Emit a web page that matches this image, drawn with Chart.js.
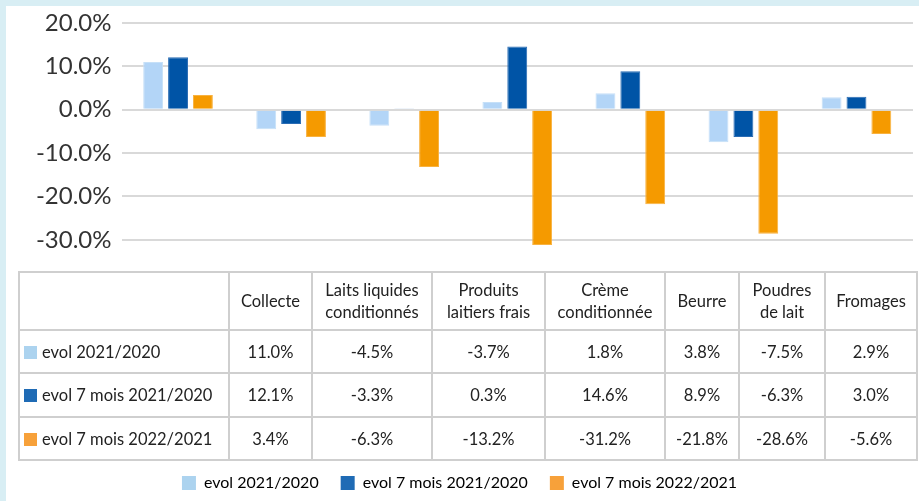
<!DOCTYPE html>
<html>
<head>
<meta charset="utf-8">
<script src="https://cdn.jsdelivr.net/npm/chart.js@4"></script>
<style>
    body { margin: 0; background: #d8eef4; width: 919px; height: 501px; overflow: hidden; }
    #panel { position: absolute; left: 6px; top: 6px; width: 913px; height: 495px; background: #fff; }
    #chart { position: absolute; left: 0; top: 0; }
    #dataTable {
        position: absolute; left: 12px; top: 265px;
        border-collapse: collapse; table-layout: fixed;
        font-family: Lato, "Open Sans", sans-serif; font-size: 16.5px; color: #222;
    }
    #dataTable td { border: 2px solid #cfcfcf; text-align: center; padding: 0; line-height: 22px; }
    #dataTable td.name { text-align: left; padding-left: 4px; white-space: nowrap; }
    .key { display: inline-block; width: 13px; height: 13px; margin-right: 5px; vertical-align: -1px; }
</style>
</head>
<body>
<div id="panel">
    <canvas id="chart" width="913" height="495"></canvas>
    <table id="dataTable"></table>
</div>
<script>
// categories (table header uses line breaks)
const categories = ["Collecte", "Laits liquides\nconditionnés", "Produits\nlaitiers frais",
    "Crème\nconditionnée", "Beurre", "Poudres\nde lait", "Fromages"];

const seriesNames = ["evol 2021/2020", "evol 7 mois 2021/2020", "evol 7 mois 2022/2021"];

const evol2021 = [11.0, -4.5, -3.7, 1.8, 3.8, -7.5, 2.9];
const evol7m2021 = [12.1, -3.3, 0.3, 14.6, 8.9, -6.3, 3.0];
const evol7m2022 = [3.4, -6.3, -13.2, -31.2, -21.8, -28.6, -5.6];

const yTicks = [-30, -20, -10, 0, 10, 20];

const barColors = ['#b3d5f7', '#0054a6', '#f59a00'];
const barBorders = ['#c6e0f8', '#2a6cb4', '#f8b240'];
const keyColors = ['#acd3ef', '#1f6bb5', '#f7a13a'];

const colWidths = [210, 83, 120, 113, 120, 74, 86, 92];
const rowHeights = [58, 43, 44, 43];

const allSeries = [evol2021, evol7m2021, evol7m2022];

function buildTable() {
    let table = document.getElementById('dataTable');
    let colgroup = document.createElement('colgroup');
    colWidths.forEach(w => {
        let c = document.createElement('col');
        c.style.width = w + 'px';
        colgroup.appendChild(c);
    });
    table.appendChild(colgroup);

    let head = document.createElement('tr');
    head.style.height = rowHeights[0] + 'px';
    head.appendChild(document.createElement('td'));
    categories.forEach(cat => {
        let td = document.createElement('td');
        td.innerHTML = cat.split('\n').join('<br>');
        head.appendChild(td);
    });
    table.appendChild(head);

    allSeries.forEach((vals, i) => {
        let tr = document.createElement('tr');
        tr.style.height = rowHeights[i + 1] + 'px';
        let name = document.createElement('td');
        name.className = 'name';
        name.innerHTML = '<span class="key" style="background:' + keyColors[i] + '"></span>' + seriesNames[i];
        tr.appendChild(name);
        vals.forEach(v => {
            let td = document.createElement('td');
            td.textContent = v.toFixed(1) + '%';
            tr.appendChild(td);
        });
        table.appendChild(tr);
    });
}

buildTable();

let ctx = document.getElementById('chart').getContext('2d');

let outputGraph = new Chart(ctx, {
    type: 'bar',
    data: {
        labels: categories.map(c => c.replace('\n', ' ')),
        datasets: allSeries.map((vals, i) => ({
            label: seriesNames[i],
            data: vals,
            backgroundColor: barColors[i],
            borderColor: barBorders[i],
            borderWidth: 1,
            categoryPercentage: 0.66,
            barPercentage: 0.8
        }))
    },
    options: {
        responsive: false,
        animation: false,
        layout: {
            padding: { top: 17, right: 6, left: 0, bottom: 0 }
        },
        plugins: {
            tooltip: { enabled: false },
            legend: {
                display: true,
                position: 'bottom',
                labels: {
                    boxWidth: 14,
                    boxHeight: 14,
                    padding: 22,
                    color: '#222',
                    font: { family: 'Lato', size: 16 },
                    generateLabels: function(chart) {
                        return seriesNames.map((n, i) => ({
                            text: n,
                            fillStyle: keyColors[i],
                            strokeStyle: keyColors[i],
                            lineWidth: 0,
                            datasetIndex: i
                        }));
                    }
                }
            }
        },
        scales: {
            x: {
                ticks: { display: false },
                grid: { display: false },
                border: { display: false },
                afterFit: function(scale) { scale.height = 208; }
            },
            y: {
                min: -31.2,
                max: 20,
                afterBuildTicks: function(scale) {
                    scale.ticks = yTicks.map(v => ({ value: v }));
                },
                afterFit: function(scale) {
                    scale.width = 115.5;
                    scale.paddingTop = 0;
                    scale.paddingBottom = 0;
                },
                ticks: {
                    padding: 10,
                    color: '#333',
                    font: { family: 'Lato', size: 24 },
                    callback: function(value) { return value.toFixed(1) + '%'; }
                },
                grid: { color: '#d9d9d9', lineWidth: 2, drawTicks: false },
                border: { display: false }
            }
        }
    }
});
</script>
</body>
</html>
